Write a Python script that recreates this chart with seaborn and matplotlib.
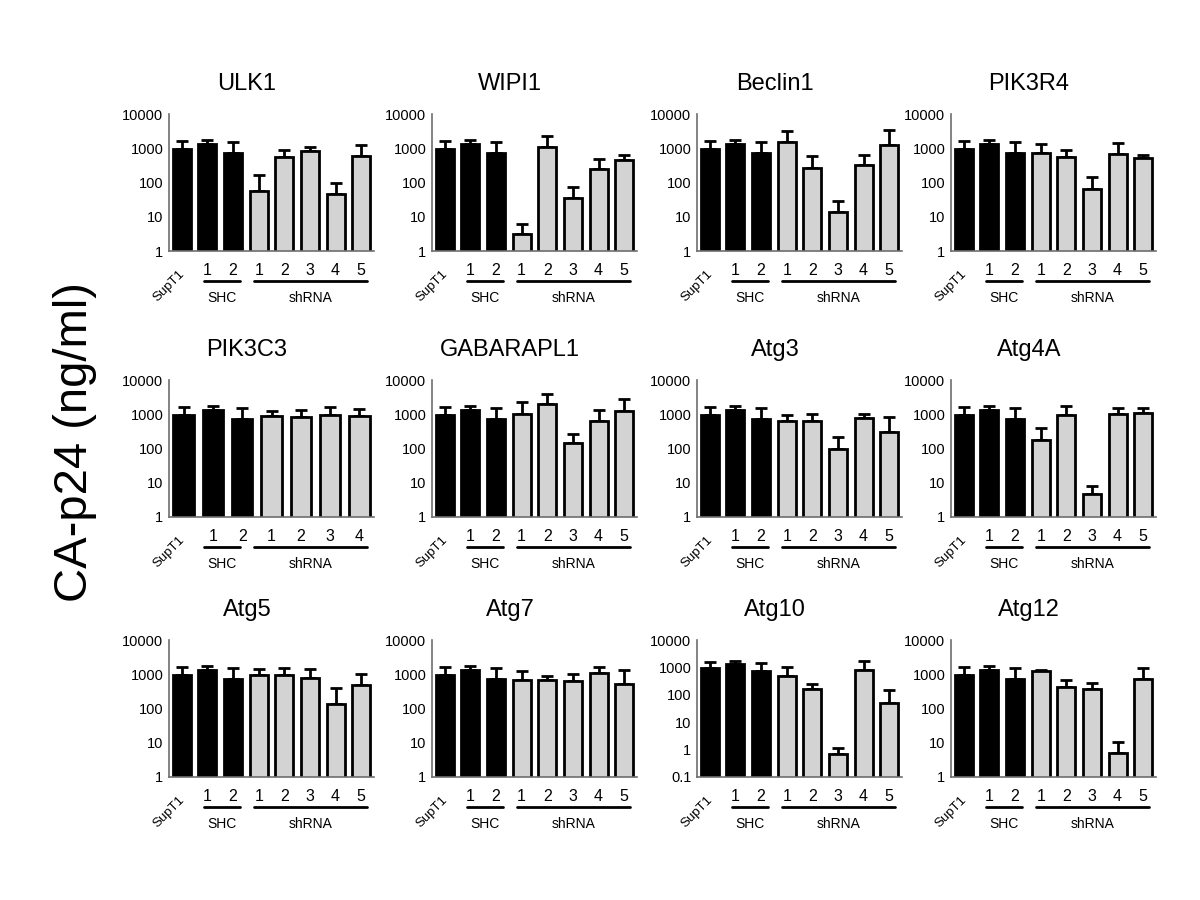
import numpy as np
import pandas as pd
import matplotlib
matplotlib.use("Agg")
import matplotlib.pyplot as plt
import seaborn as sns

# ---------------- data ----------------
titles = ["ULK1", "WIPI1", "Beclin1", "PIK3R4",
          "PIK3C3", "GABARAPL1", "Atg3", "Atg4A",
          "Atg5", "Atg7", "Atg10", "Atg12"]

ctrl_labels = ["SupT1", "1", "2"]
ctrl_mean = [950, 1350, 730]
ctrl_top = [1600, 1750, 1480]          # upper end of error bar

ulk1_mean = [58, 557, 816, 45, 583]
ulk1_top = [165, 870, 1095, 95, 1220]
wipi1_mean = [3.2, 1107, 36, 246, 461]
wipi1_top = [6.0, 2250, 75, 493, 630]
beclin1_mean = [1570, 272, 13.5, 325, 1250]
beclin1_top = [3240, 600, 28, 650, 3400]
pik3r4_mean = [747, 557, 64, 667, 521]
pik3r4_top = [1310, 870, 143, 1465, 653]
pik3c3_mean = [884, 808, 925, 884]
pik3c3_top = [1260, 1320, 1600, 1415]
gabarapl1_mean = [1020, 1950, 143, 650, 1240]
gabarapl1_top = [2230, 3900, 258, 1320, 2750]
atg3_mean = [622, 622, 100, 795, 310]
atg3_top = [935, 1000, 215, 1045, 815]
atg4a_mean = [183, 960, 4.7, 1020, 1090]
atg4a_top = [400, 1740, 7.9, 1520, 1480]
atg5_mean = [980, 975, 760, 135, 470]
atg5_top = [1380, 1510, 1400, 390, 1050]
atg7_mean = [690, 700, 640, 1120, 520]
atg7_top = [1250, 885, 1000, 1600, 1300]
atg10_mean = [470, 165, 0.72, 800, 51]
atg10_top = [1050, 245, 1.1, 1740, 147]
atg12_mean = [1270, 412, 375, 5.0, 705]
atg12_top = [1350, 675, 540, 10.6, 1550]

sh_means = [ulk1_mean, wipi1_mean, beclin1_mean, pik3r4_mean,
            pik3c3_mean, gabarapl1_mean, atg3_mean, atg4a_mean,
            atg5_mean, atg7_mean, atg10_mean, atg12_mean]
sh_tops = [ulk1_top, wipi1_top, beclin1_top, pik3r4_top,
           pik3c3_top, gabarapl1_top, atg3_top, atg4a_top,
           atg5_top, atg7_top, atg10_top, atg12_top]

yticks_std = [1, 10, 100, 1000, 10000]
ytick_labels_std = ["1", "10", "100", "1000", "10000"]
yticks_atg10 = [0.1, 1, 10, 100, 1000, 10000]
ytick_labels_atg10 = ["0.1", "1", "10", "100", "1000", "10000"]

# ---------------- styling ----------------
sns.set_style("white")
plt.rcParams["font.family"] = ["Liberation Sans", "DejaVu Sans"]
plt.rcParams["text.color"] = "black"
plt.rcParams["axes.labelcolor"] = "black"
plt.rcParams["axes.titlecolor"] = "black"

fig = plt.figure(figsize=(12, 9), dpi=100)
W, H = 1200.0, 900.0
col_x = [169, 432, 697, 951]
row_top = [114, 380, 640]
ax_w, ax_h = 205, 137

spine_col = "#6e6e6e"
palette = {"ctrl": "black", "sh": "#d3d3d3"}

for i, title in enumerate(titles):
    r, c = divmod(i, 4)
    left = col_x[c] / W
    bottom = 1 - (row_top[r] + ax_h) / H
    ax = fig.add_axes([left, bottom, ax_w / W, ax_h / H])

    means = ctrl_mean + list(sh_means[i])
    tops = ctrl_top + list(sh_tops[i])
    n_sh = len(sh_means[i])
    keys = ["SupT1", "SHC1", "SHC2"] + [f"sh{k+1}" for k in range(n_sh)]
    groups = ["ctrl"] * 3 + ["sh"] * n_sh
    df = pd.DataFrame({"key": keys, "value": means, "group": groups})

    sns.barplot(data=df, x="key", y="value", hue="group", order=keys,
                palette=palette, dodge=False, width=0.7, edgecolor="black",
                linewidth=2.0, errorbar=None, legend=False, ax=ax, zorder=2)
    ax.set_yscale("log")

    x = np.arange(len(keys))
    m = np.array(means, dtype=float)
    t = np.array(tops, dtype=float)
    ax.errorbar(x, m, yerr=[np.zeros_like(m), t - m], fmt="none",
                ecolor="black", elinewidth=2.0, capsize=4.5, capthick=2.0,
                zorder=1)

    if title == "Atg10":
        ax.set_ylim(0.1, 10000)
        ax.set_yticks(yticks_atg10)
        ax.set_yticklabels(ytick_labels_atg10)
    else:
        ax.set_ylim(1, 10000)
        ax.set_yticks(yticks_std)
        ax.set_yticklabels(ytick_labels_std)
    ax.yaxis.set_minor_locator(matplotlib.ticker.NullLocator())
    ax.set_xlim(-0.5, len(keys) - 0.5)

    ax.set_xticks(x)
    ax.set_xticklabels([""] + ["1", "2"] + [str(k + 1) for k in range(n_sh)])
    ax.set_xlabel("")
    ax.set_ylabel("")

    for s in ["top", "right"]:
        ax.spines[s].set_visible(False)
    for s in ["left", "bottom"]:
        ax.spines[s].set_color(spine_col)
        ax.spines[s].set_linewidth(1.2)
        ax.spines[s].set_zorder(3)

    ax.tick_params(axis="x", direction="out", length=3.5, width=1.1,
                   color=spine_col, labelsize=11.5, pad=5, labelcolor="black")
    ax.tick_params(axis="y", direction="out", length=3, width=1.1,
                   color=spine_col, labelsize=10.5, pad=1, labelcolor="black")

    ax.set_title(title, fontsize=17, pad=17, x=0.38, color="black")

    # SupT1 rotated label
    ax.text(0.066, -0.157, "SupT1", transform=ax.transAxes, rotation=45,
            rotation_mode="anchor", ha="right", va="center", fontsize=9.5,
            color="black")

    # group lines and labels
    ly = -30 / ax_h
    ax.plot([0.17, 0.346], [ly, ly], color="black", lw=2,
            transform=ax.transAxes, clip_on=False)
    ax.plot([0.415, 0.966], [ly, ly], color="black", lw=2,
            transform=ax.transAxes, clip_on=False)
    ax.text(0.258, -0.343, "SHC", transform=ax.transAxes, ha="center",
            va="center", fontsize=10, color="black")
    ax.text(0.69, -0.343, "shRNA", transform=ax.transAxes, ha="center",
            va="center", fontsize=10, color="black")

fig.text(75 / W, 1 - 442 / H, "CA-p24 (ng/ml)", rotation=90,
         fontsize=34, ha="center", va="center", color="black")

fig.savefig("out.png", dpi=100, facecolor="white")
